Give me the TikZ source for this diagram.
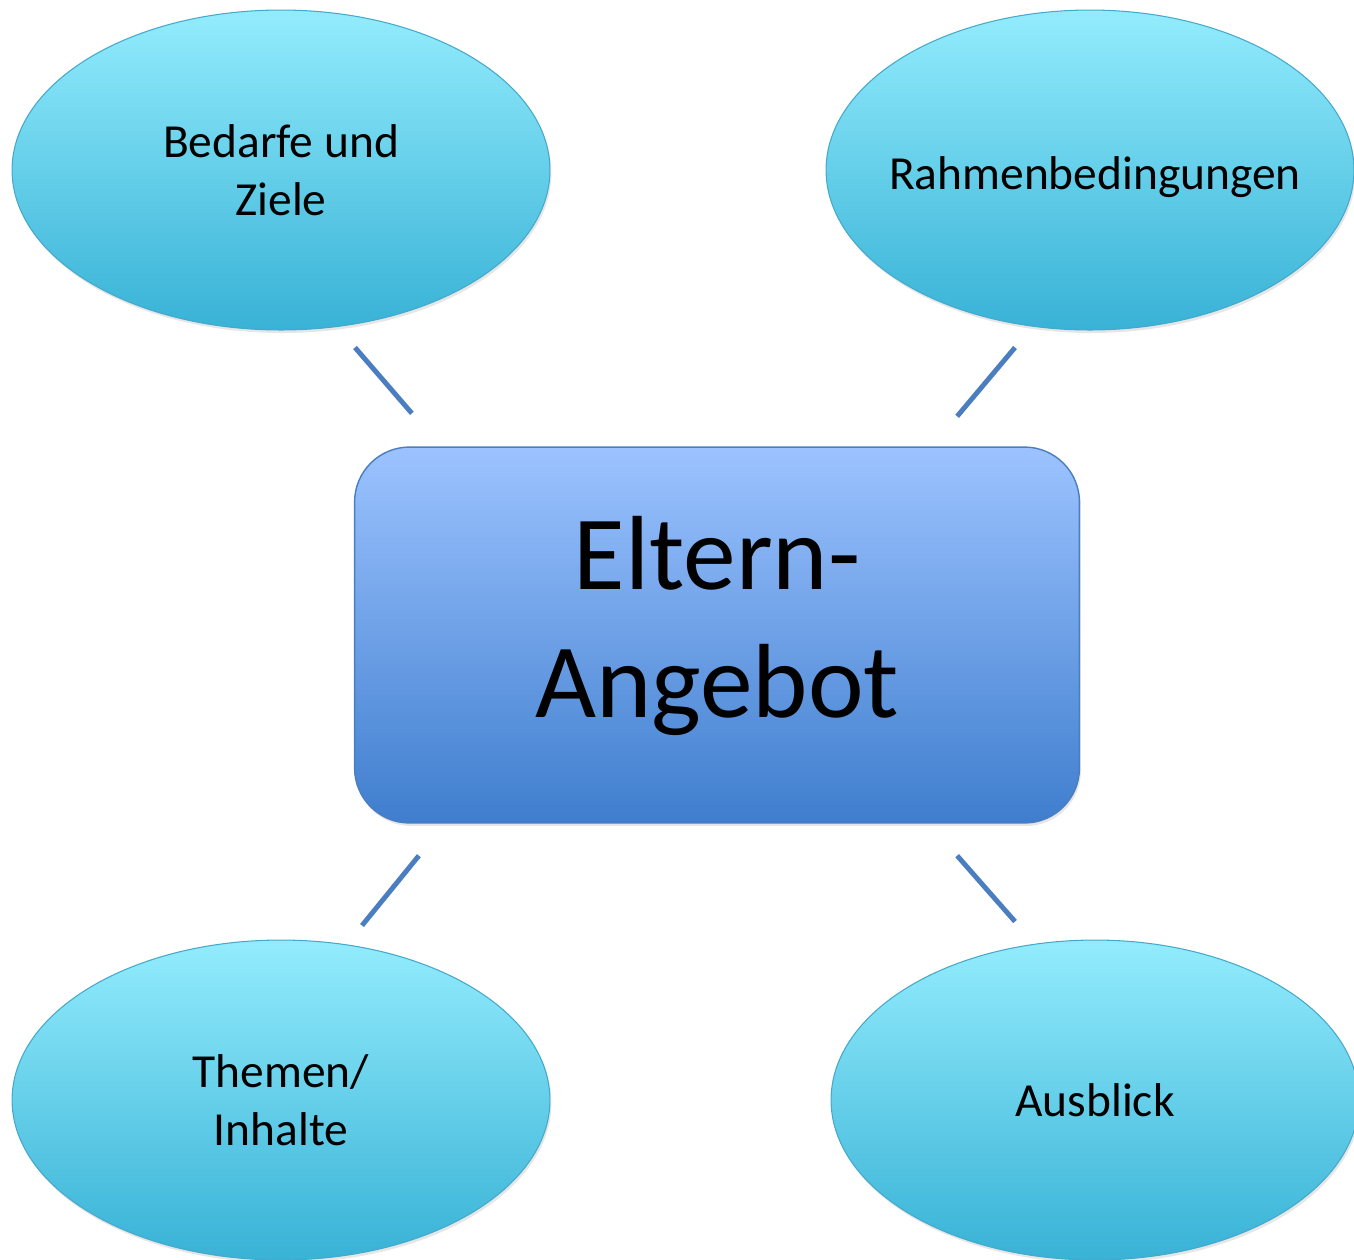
\documentclass[tikz,border=0pt]{standalone}
\usepackage{fontspec}
\setmainfont{Carlito}
\usetikzlibrary{shapes.geometric,shadows,calc}
\definecolor{bubtop}{HTML}{93ECFD}
\definecolor{bubbot}{HTML}{38B2D6}
\definecolor{bubline}{HTML}{45A9CB}
\definecolor{boxtop}{HTML}{9CC3FF}
\definecolor{boxbot}{HTML}{3F7ECE}
\definecolor{boxline}{HTML}{4A7EBF}
\definecolor{linkcol}{HTML}{4A7EC1}

\begin{document}
\begin{tikzpicture}[x=0.02cm, y=-0.02cm] %Eltern-Angebot
  \tikzstyle{mainbox} = [rectangle, rounded corners=1.1cm, draw=boxline, line width=0.8pt, minimum width=14.5cm, minimum height=7.52cm, top color=boxtop, bottom color=boxbot, drop shadow={opacity=0.2, shadow xshift=0.03cm, shadow yshift=-0.06cm}]
  \tikzstyle{bubble} = [ellipse, draw=bubline, line width=0.6pt, minimum width=10.76cm, minimum height=6.4cm, inner sep=0pt, top color=bubtop, bottom color=bubbot, drop shadow={opacity=0.2, shadow xshift=0.03cm, shadow yshift=-0.06cm}]
  \tikzstyle{bubtext} = [align=center, font=\fontsize{27}{33}\selectfont]
  \tikzstyle{bigtext} = [align=center, font=\fontsize{60}{73}\selectfont]
  \tikzstyle{link} = [draw=linkcol, line width=2.8pt]
  \useasboundingbox (0,0) rectangle (1354,1259);
  \node[mainbox, label={[bigtext, yshift=0.18cm]center:Eltern-\\Angebot}] (E) at (717,635) {};
  \node[bubble, label={[bubtext]center:Bedarfe und\\Ziele}] (E1) at (281,170) {};
  \node[bubble, minimum width=10.56cm, label={[bubtext, xshift=0.1cm, yshift=-0.14cm]center:Rahmenbedingungen}] (E2) at (1090,170) {};
  \node[bubble, label={[bubtext]center:Themen/\\Inhalte}] (E3) at (281,1100) {};
  \node[bubble, minimum width=10.56cm, label={[bubtext]center:Ausblick}] (E4) at (1095,1100) {};
  % line ends between bubbles and box
  \coordinate (s1) at ($(E1.south)+(74,17)$);
  \coordinate (t1) at ($(E.north west)+(58,-33)$);
  \coordinate (s2) at ($(E2.south)+(-75,17)$);
  \coordinate (t2) at ($(E.north east)+(-123,-30)$);
  \coordinate (s3) at ($(E3.north)+(81,-14)$);
  \coordinate (t3) at ($(E.south west)+(65,32)$);
  \coordinate (s4) at ($(E4.north)+(-80,-18)$);
  \coordinate (t4) at ($(E.south east)+(-123,32)$);
  \foreach \i in {1,2,3,4}
  {
    \draw[link] (s\i) -- (t\i);
  }
\end{tikzpicture}
\end{document}
